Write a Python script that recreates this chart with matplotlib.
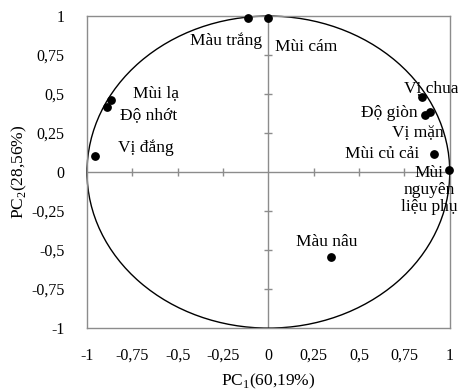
import numpy as np
import matplotlib.pyplot as plt
from matplotlib.patches import Circle

plt.rcParams['font.family'] = ['Liberation Serif', 'DejaVu Serif']
plt.rcParams['mathtext.fontset'] = 'custom'
plt.rcParams['mathtext.rm'] = 'Liberation Serif'

# loadings on the first two principal components
names = ['Màu trắng', 'Mùi cám', 'Vị chua', 'Độ giòn', 'Vị mặn', 'Mùi củ cải',
         'Mùi\nnguyên\nliệu phụ', 'Màu nâu', 'Mùi lạ', 'Độ nhớt', 'Vị đắng']
pc1 = [-0.115, -0.004, 0.847, 0.862, 0.889, 0.915, 0.998, 0.346, -0.867, -0.888, -0.957]
pc2 = [0.985, 0.985, 0.483, 0.365, 0.387, 0.115, 0.013, -0.543, 0.46, 0.42, 0.10]

ticks = [-1, -0.75, -0.5, -0.25, 0, 0.25, 0.5, 0.75, 1]
tick_labels = ['-1', '-0,75', '-0,5', '-0,25', '0', '0,25', '0,5', '0,75', '1']

# where each name is written (x, y, horizontal alignment)
label_pos = {
    'Màu trắng': (-0.43, 0.84, 'left'),
    'Mùi cám': (0.037, 0.80, 'left'),
    'Vị chua': (0.745, 0.538, 'left'),
    'Độ giòn': (0.508, 0.378, 'left'),
    'Vị mặn': (0.68, 0.256, 'left'),
    'Mùi củ cải': (0.424, 0.115, 'left'),
    'Mùi\nnguyên\nliệu phụ': (0.888, -0.115, 'center'),
    'Màu nâu': (0.323, -0.449, 'center'),
    'Mùi lạ': (-0.746, 0.506, 'left'),
    'Độ nhớt': (-0.818, 0.365, 'left'),
    'Vị đắng': (-0.829, 0.154, 'left'),
}

fig = plt.figure(figsize=(4.58, 3.92), dpi=100)
ax = fig.add_axes([0.19, 0.163, 0.792, 0.796])

ax.set_xlim(-1, 1)
ax.set_ylim(-1, 1)
for s in ax.spines.values():
    s.set_color('#8c8c8c')
    s.set_linewidth(1.0)

ax.set_xticks(ticks)
ax.set_xticklabels(tick_labels)
ax.set_yticks(ticks)
ax.set_yticklabels(tick_labels)
ax.tick_params(axis='both', length=0, labelsize=11.5)
ax.tick_params(axis='x', pad=14)
ax.tick_params(axis='y', pad=16)

# centre axes with their own tick marks
ax.axhline(0, color='#8c8c8c', lw=1.0, zorder=1)
ax.axvline(0, color='#8c8c8c', lw=1.0, zorder=1)
inner = [t for t in ticks if t not in (-1, 0, 1)]
ax.plot(inner, np.zeros(len(inner)), ls='none', marker='|', ms=6, mew=1.0,
        color='#8c8c8c', zorder=1)
ax.plot(np.zeros(len(inner)), inner, ls='none', marker='_', ms=6, mew=1.0,
        color='#8c8c8c', zorder=1)

ax.add_patch(Circle((0, 0), 1, fill=False, color='black', lw=1.0, zorder=2,
                    clip_on=False))

ax.scatter(pc1, pc2, s=28, color='black', zorder=3, clip_on=False)

for n in names:
    x, y, ha = label_pos[n]
    ax.text(x, y, n, ha=ha, va='center', fontsize=12.5, linespacing=1.05,
            zorder=4, clip_on=False)

ax.set_xlabel('PC$_1$(60,19%)', fontsize=12.5, labelpad=6)
ax.set_ylabel('PC$_2$(28,56%)', fontsize=12.5, labelpad=2)

fig.savefig('out.png', dpi=100)
